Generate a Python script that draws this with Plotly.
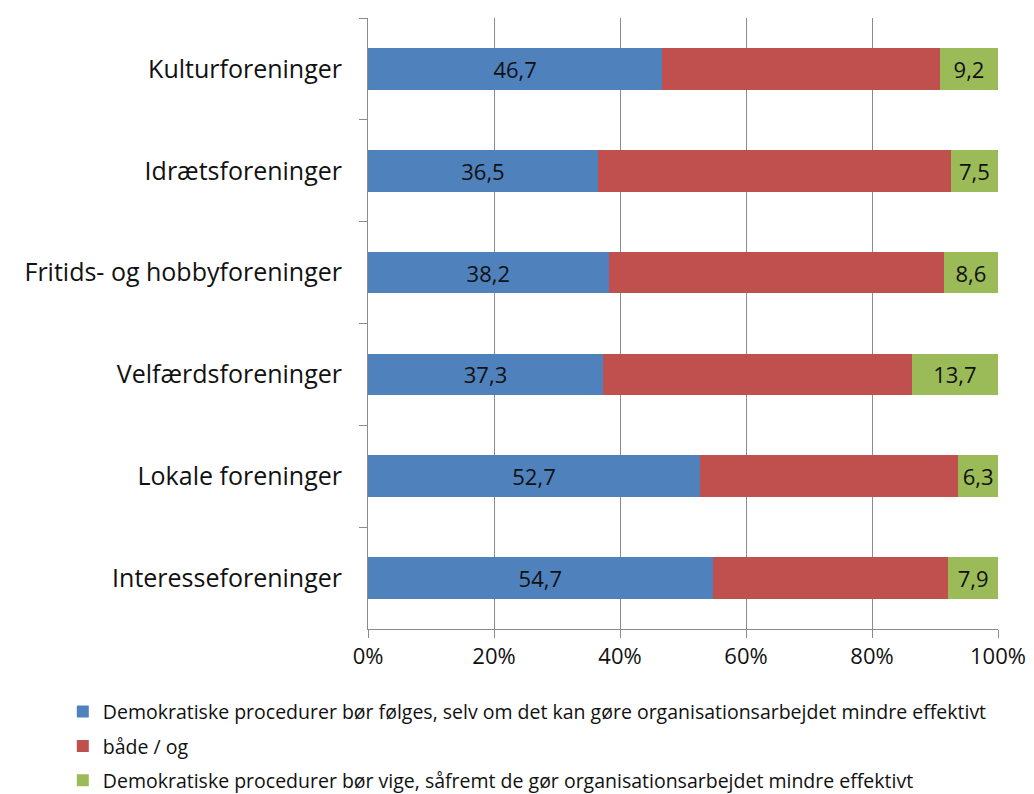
import plotly.graph_objects as go

foreninger = ["Kulturforeninger", "Idrætsforeninger", "Fritids- og hobbyforeninger",
              "Velfærdsforeninger", "Lokale foreninger", "Interesseforeninger"]
demokratisk = [46.7, 36.5, 38.2, 37.3, 52.7, 54.7]
baade_og = [44.1, 56.0, 53.2, 49.0, 41.0, 37.4]
effektivt = [9.2, 7.5, 8.6, 13.7, 6.3, 7.9]

navne = ["Demokratiske procedurer bør følges, selv om det kan gøre organisationsarbejdet mindre effektivt",
         "både / og",
         "Demokratiske procedurer bør vige, såfremt de gør organisationsarbejdet mindre effektivt"]
farver = ["#4F81BD", "#C0504D", "#9BBB59"]

font = "Open Sans, Roboto, Arial"

fig = go.Figure()
for i, (vals, navn, farve) in enumerate(zip([demokratisk, baade_og, effektivt], navne, farver)):
    fig.add_trace(go.Bar(
        y=foreninger, x=vals, name=navn, orientation="h",
        marker=dict(color=farve, line=dict(width=0)),
        texttemplate="" if i == 1 else "%{x:.1f}",
        textposition="inside", insidetextanchor="middle",
        textfont=dict(color="#111111", size=22, family=font),
        legendgroup=str(i),
    ))

# page body has an 8px margin, so everything is shifted back by 8px here
fig.update_layout(
    barmode="stack",
    bargap=0.59,
    uniformtext=dict(minsize=10, mode="show"),
    width=1034, height=794,
    margin=dict(l=360, r=44, t=10, b=173, autoexpand=False),
    plot_bgcolor="white", paper_bgcolor="white",
    separators=",.",
    font=dict(family=font, color="#111111"),
    showlegend=True,
    legend=dict(
        xref="container", yref="container", x=0.053, y=0.138,
        xanchor="left", yanchor="top",
        font=dict(size=19.5, family=font),
        traceorder="grouped", tracegroupgap=6,
        itemwidth=30,
    ),
)
fig.update_xaxes(
    range=[0, 100], dtick=20, ticksuffix="%",
    showgrid=True, gridcolor="#8c8c8c", gridwidth=1,
    showline=True, linecolor="#8c8c8c",
    ticks="outside", ticklen=8, tickcolor="#8c8c8c",
    tickfont=dict(size=22, family=font), zeroline=False,
)
fig.update_yaxes(
    autorange="reversed",
    showline=True, linecolor="#8c8c8c",
    ticks="outside", tickson="boundaries", ticklen=8, tickcolor="#8c8c8c",
    tickfont=dict(size=25, family=font), ticklabelstandoff=20,
)

fig.write_html("out.html")
